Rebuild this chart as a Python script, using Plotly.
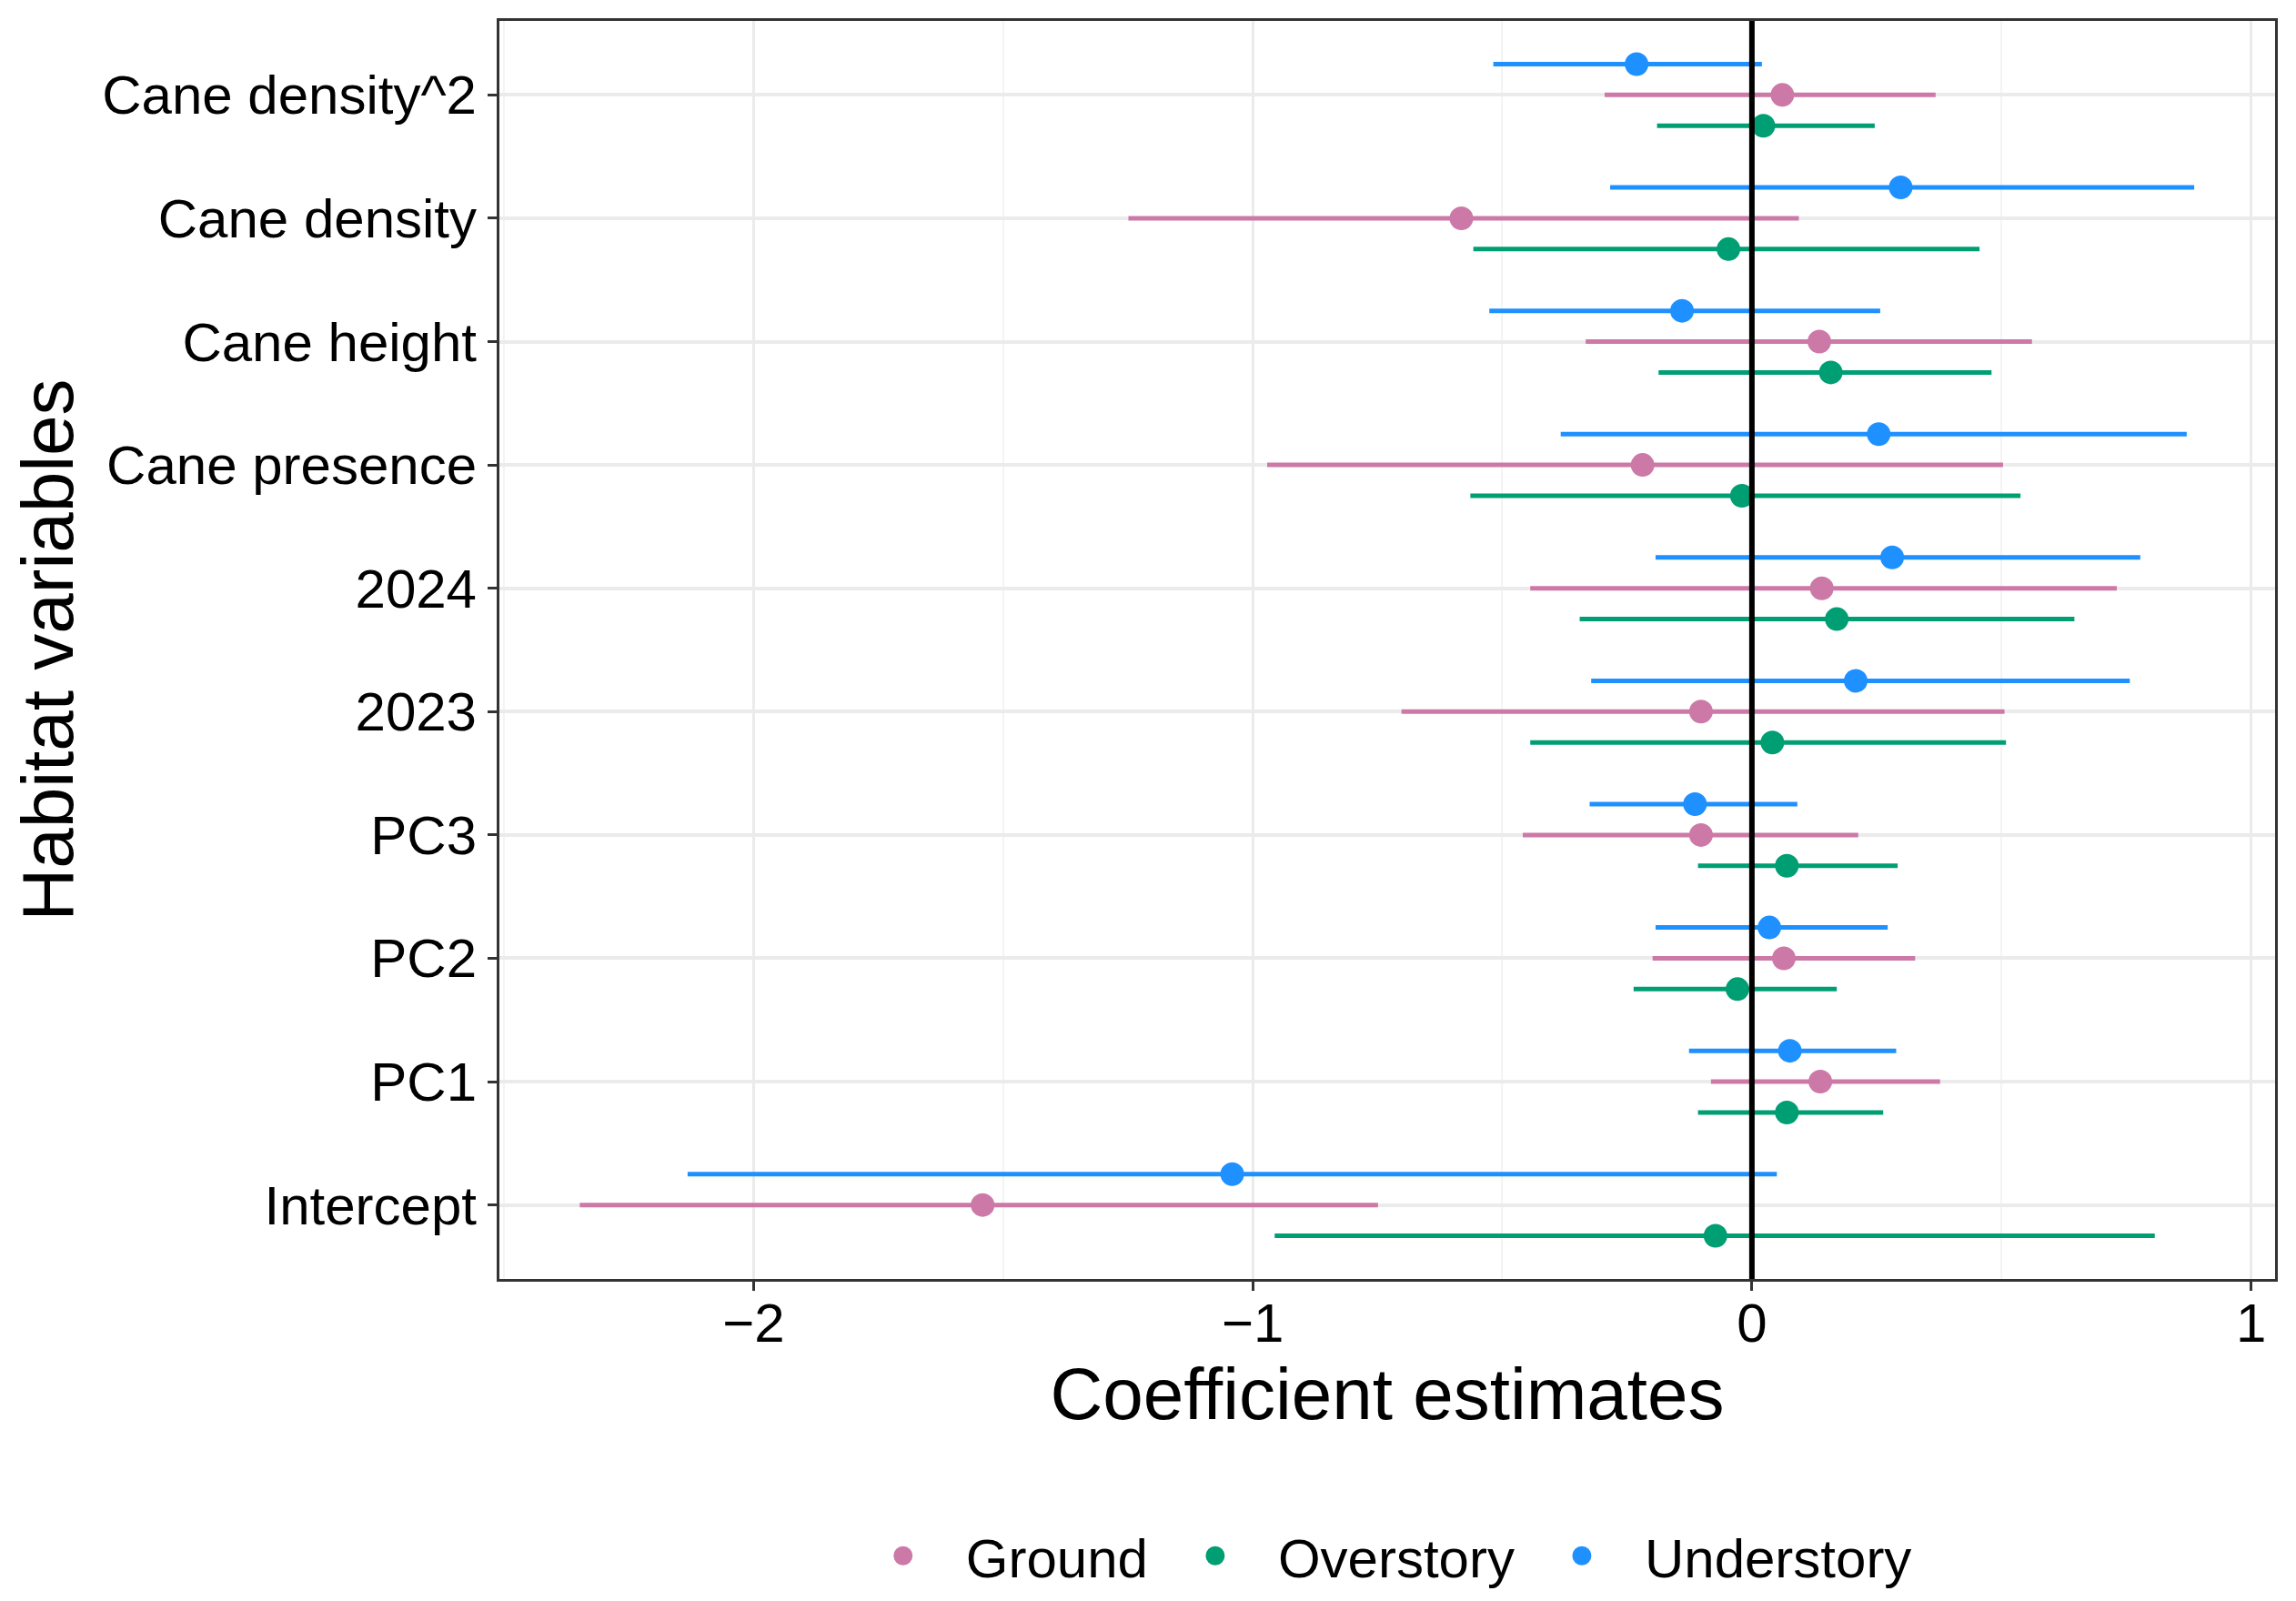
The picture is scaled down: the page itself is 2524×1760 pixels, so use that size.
"""
Habitat variables coefficient plot (point + interval) for three strata.
"""
import plotly.graph_objects as go

variables = ["Intercept", "PC1", "PC2", "PC3", "2023", "2024",
             "Cane presence", "Cane height", "Cane density", "Cane density^2"]

groups = ["Ground", "Overstory", "Understory"]

ground_est = [-1.541, 0.137, 0.064, -0.102, -0.102, 0.140, -0.219, 0.135, -0.582, 0.061]
ground_lo = [-2.348, -0.082, -0.199, -0.459, -0.702, -0.444, -0.971, -0.333, -1.249, -0.295]
ground_hi = [-0.749, 0.377, 0.327, 0.213, 0.506, 0.731, 0.503, 0.561, 0.094, 0.368]

over_est = [-0.073, 0.070, -0.029, 0.070, 0.041, 0.170, -0.020, 0.158, -0.047, 0.023]
over_lo = [-0.956, -0.108, -0.237, -0.108, -0.444, -0.345, -0.564, -0.187, -0.558, -0.190]
over_hi = [0.807, 0.263, 0.170, 0.292, 0.509, 0.646, 0.538, 0.480, 0.456, 0.246]

under_est = [-1.041, 0.076, 0.035, -0.114, 0.208, 0.281, 0.254, -0.140, 0.298, -0.231]
under_lo = [-2.132, -0.126, -0.193, -0.325, -0.322, -0.193, -0.383, -0.526, -0.284, -0.518]
under_hi = [0.050, 0.289, 0.272, 0.091, 0.757, 0.778, 0.871, 0.257, 0.886, 0.020]

x_ticks = [-2, -1, 0, 1]

colors = {"Ground": "#CC79A7", "Overstory": "#009E73", "Understory": "#1E90FF"}
dodge = {"Ground": 0.0, "Overstory": -0.25, "Understory": 0.25}  # position_dodge
series = {"Ground": (ground_est, ground_lo, ground_hi),
          "Overstory": (over_est, over_lo, over_hi),
          "Understory": (under_est, under_lo, under_hi)}

FONT = "Liberation Sans, Arial, sans-serif"

data = []
for g in groups:
    est, lo, hi = series[g]
    data.append(go.Scatter(
        x=est,
        y=[i + dodge[g] for i in range(len(variables))],
        mode="markers",
        name=g,
        # outline in the same colour so the legend key comes out a bit larger
        marker=dict(size=21, color=colors[g], line=dict(width=5, color=colors[g])),
        error_x=dict(type="data", symmetric=False,
                     array=[h - e for h, e in zip(hi, est)],
                     arrayminus=[e - l for e, l in zip(est, lo)],
                     width=0, thickness=5, color=colors[g]),
    ))

layout = go.Layout(
    width=2524, height=1760,
    paper_bgcolor="white", plot_bgcolor="white",
    margin=dict(l=541, r=31, t=13, b=347),
    font=dict(family=FONT, color="black", size=60),
    xaxis=dict(
        range=[-2.509, 1.048], tickvals=x_ticks, zeroline=False,
        showgrid=True, gridcolor="#EBEBEB", gridwidth=2.5,
        minor=dict(dtick=0.5, tick0=0, showgrid=True, gridcolor="#F4F4F4", gridwidth=1.5),
        showline=True, mirror=True, linecolor="#333333", linewidth=3,
        ticks="outside", ticklen=10, tickwidth=3, tickcolor="#333333",
        tickfont=dict(size=60, color="black"), ticklabelstandoff=-16,
        title=dict(text="Coefficient estimates", font=dict(size=80), standoff=12),
    ),
    yaxis=dict(
        range=[-0.6, 9.6], tickvals=list(range(len(variables))), ticktext=variables,
        zeroline=False, showgrid=True, gridcolor="#EBEBEB", gridwidth=3.5,
        showline=True, mirror=True, linecolor="#333333", linewidth=3,
        ticks="outside", ticklen=10, tickwidth=3, tickcolor="#333333",
        tickfont=dict(size=60, color="black"),
        title=dict(text="Habitat variables", font=dict(size=80), standoff=16),
    ),
    legend=dict(orientation="h", x=0.495, xanchor="center", y=-0.22, yanchor="middle",
                font=dict(size=60), itemwidth=128),
    showlegend=True,
)

fig = go.Figure(data=data, layout=layout)
fig.add_vline(x=0, line=dict(color="black", width=6))

fig.write_html("out.html")
